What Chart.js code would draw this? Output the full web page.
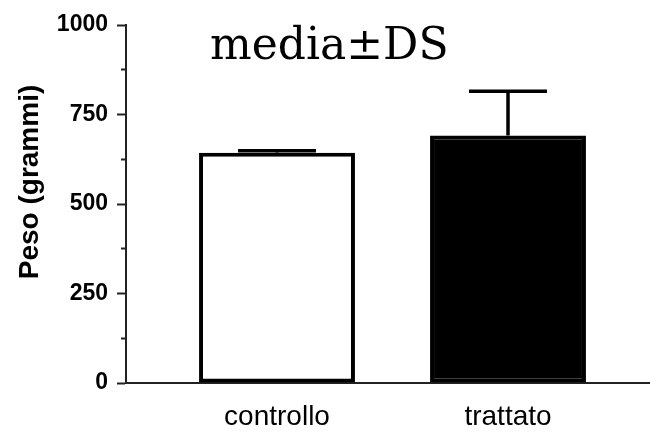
<!DOCTYPE html>
<html>
<head>
<meta charset="utf-8">
<script src="https://cdn.jsdelivr.net/npm/chart.js@4/dist/chart.umd.min.js"></script>
<style>
  body { margin: 0; background: #fff; }
  #wrap { position: relative; width: 650px; height: 432px; }
  #titolo {
    position: absolute; left: 210px; top: 22px;
    font-family: "DejaVu Serif", serif; font-size: 44px; line-height: 1;
    color: #000; white-space: nowrap;
  }
  #asseY {
    position: absolute; left: -121px; top: 168px; width: 300px; height: 28px;
    font-family: "Liberation Sans", Arial, sans-serif; font-size: 28px; font-weight: bold;
    line-height: 28px; text-align: center; color: #000; white-space: nowrap;
    transform: rotate(-90deg);
  }
</style>
</head>
<body>
<div id="wrap">
  <canvas id="grafico" width="650" height="432"></canvas>
  <div id="titolo">media±DS</div>
  <div id="asseY">Peso (grammi)</div>
</div>
<script>
// dati
var gruppi = ['controllo', 'trattato'];
var medie = [643, 691];
var ds = [6, 124];
var yTicks = [0, 250, 500, 750, 1000];

var punti = [];
for (var i in gruppi) {
  punti.push({ x: Number(i), y: medie[i] });
}

// barre di errore (solo verso l'alto)
var barreErrore = {
  id: 'barreErrore',
  afterDatasetsDraw: function(chart) {
    var ctx = chart.ctx;
    var y = chart.scales.y;
    var meta = chart.getDatasetMeta(0);
    ctx.save();
    ctx.strokeStyle = '#000';
    ctx.lineWidth = 3.5;
    meta.data.forEach(function(bar, i) {
      var yMedia = y.getPixelForValue(medie[i]);
      var yTop = y.getPixelForValue(medie[i] + ds[i]);
      var half = bar.width * 0.25;
      ctx.beginPath();
      ctx.moveTo(bar.x, yMedia);
      ctx.lineTo(bar.x, yTop);
      ctx.moveTo(bar.x - half, yTop);
      ctx.lineTo(bar.x + half, yTop);
      ctx.stroke();
    });
    ctx.restore();
  }
};

var ctx = document.getElementById('grafico');
var grafico = new Chart(ctx, {
  type: 'bar',
  data: {
    datasets: [{
      data: punti,
      backgroundColor: ['#fff', '#000'],
      borderColor: '#000',
      borderWidth: 4,
      borderSkipped: false,
      categoryPercentage: 1,
      barPercentage: 0.675
    }]
  },
  options: {
    responsive: false,
    animation: false,
    layout: { padding: { top: 25, right: 0, left: 0, bottom: 0 } },
    plugins: {
      legend: { display: false },
      tooltip: { enabled: false }
    },
    scales: {
      x: {
        type: 'linear',
        offset: false,
        min: -0.6537,
        max: 1.6147,
        afterBuildTicks: function(scale) {
          scale.ticks = gruppi.map(function(g, i) { return { value: i }; });
        },
        afterFit: function(scale) { scale.height = 49; },
        ticks: {
          autoSkip: false,
          padding: 17,
          color: '#000',
          font: { family: '"Liberation Sans", Arial, sans-serif', size: 28 },
          callback: function(v) { return gruppi[v]; }
        },
        grid: { drawOnChartArea: false, drawTicks: false },
        border: { color: '#222', width: 2 }
      },
      y: {
        min: 0,
        max: 1000,
        afterBuildTicks: function(scale) {
          var t = [];
          for (var v = 0; v <= 1000; v += 125) t.push({ value: v });
          scale.ticks = t;
        },
        afterFit: function(scale) { scale.width = 126; },
        ticks: {
          autoSkip: false,
          padding: 9,
          color: '#000',
          font: { family: '"Liberation Sans", Arial, sans-serif', size: 23, weight: 'bold' },
          callback: function(v) { return yTicks.indexOf(v) >= 0 ? v : ''; }
        },
        grid: {
          drawOnChartArea: false,
          tickLength: 9,
          tickWidth: 2,
          tickColor: '#222',
          tickBorderDash: function(c) {
            return (c.tick && yTicks.indexOf(c.tick.value) < 0) ? [0, 4, 5, 0] : [];
          }
        },
        border: { color: '#222', width: 2 }
      }
    }
  },
  plugins: [barreErrore]
});
</script>
</body>
</html>
